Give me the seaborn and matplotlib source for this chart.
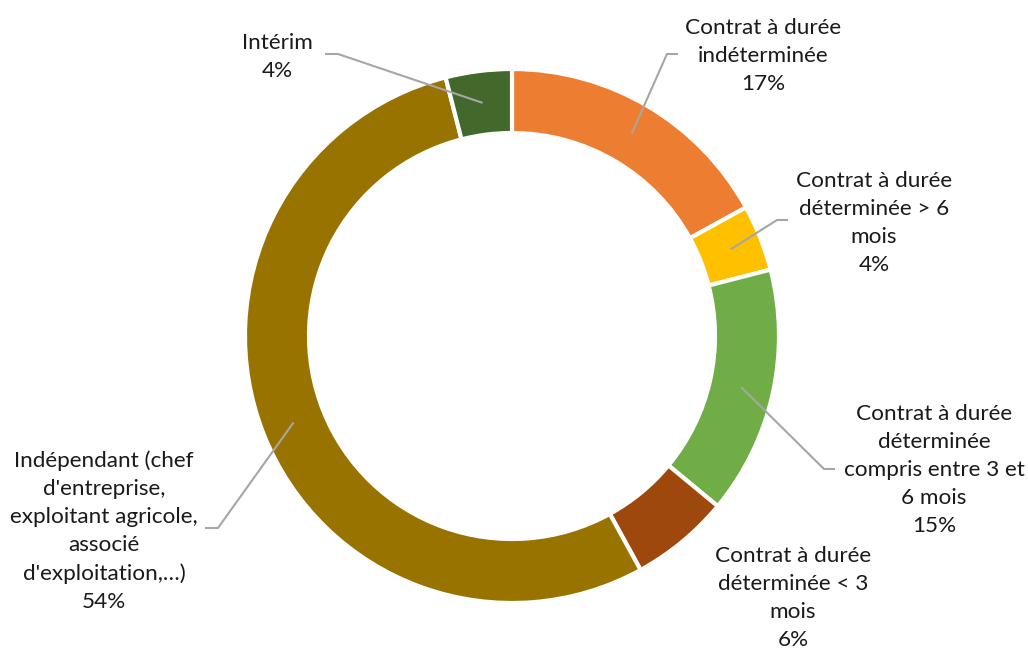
import numpy as np
import matplotlib
matplotlib.use("Agg")
import matplotlib.pyplot as plt
import seaborn as sns

# Répartition des contrats de travail
categories = [
    "Contrat à durée\nindéterminée",
    "Contrat à durée\ndéterminée > 6\nmois",
    "Contrat à durée\ndéterminée\ncompris entre 3 et\n6 mois",
    "Contrat à durée\ndéterminée < 3\nmois",
    "Indépendant (chef\nd'entreprise,\nexploitant agricole,\nassocié\nd'exploitation,…)",
    "Intérim",
]
shares = [17, 4, 15, 6, 54, 4]
colors = ["#ED7D31", "#FFC000", "#70AD47", "#9E480E", "#997300", "#43682B"]

sns.set_theme(style="white")
plt.rcParams["font.family"] = ["Lato", "DejaVu Sans"]

W, H = 1028, 650
fig = plt.figure(figsize=(W / 100, H / 100), dpi=100)
ax = fig.add_axes([0, 0, 1, 1])


def fy(y):
    """Convert a top-down pixel row to the axis' bottom-up y."""
    return H - y


cx, cy = 512, fy(336)
r_out, r_in = 267, 203
width = r_out - r_in

ax.pie(
    shares, colors=colors, startangle=90, counterclock=False,
    radius=r_out, center=(cx, cy), frame=True,
    wedgeprops=dict(width=width, edgecolor="white", linewidth=3),
)
ax.set_xlim(0, W)
ax.set_ylim(0, H)
ax.set_aspect("equal")
ax.axis("off")

# text block centres and leader elbows
label_pos = [
    (763, 56), (874, 223), (934, 470), (793, 598), (104, 531), (277, 57),
]
elbows = [
    ((678, 54), (667, 54)),
    ((788, 220), (777, 220)),
    ((835, 469), (824, 469)),
    None,
    ((205, 528), (218, 528)),
    ((325, 54), (338, 54)),
]

total = sum(shares)
cum = np.cumsum([0] + shares)
r_mid = (r_out + r_in) / 2
for i, (lab, val) in enumerate(zip(categories, shares)):
    frac = (cum[i] + val / 2) / total
    ang = 2 * np.pi * frac
    # clockwise from the top
    px = cx + r_mid * np.sin(ang)
    py = cy + r_mid * np.cos(ang)
    tx, ty = label_pos[i]
    ax.text(tx, fy(ty), f"{lab}\n{val / total:.0%}", ha="center", va="center",
            fontsize=16.2, color="#1a1a1a", linespacing=1.5)
    if elbows[i] is not None:
        (x0, y0), (x1, y1) = elbows[i]
        ax.plot([x0, x1, px], [fy(y0), fy(y1), py], color="#A6A6A6", lw=1.5,
                solid_capstyle="butt")

fig.savefig("out.png", dpi=100, facecolor="white")
